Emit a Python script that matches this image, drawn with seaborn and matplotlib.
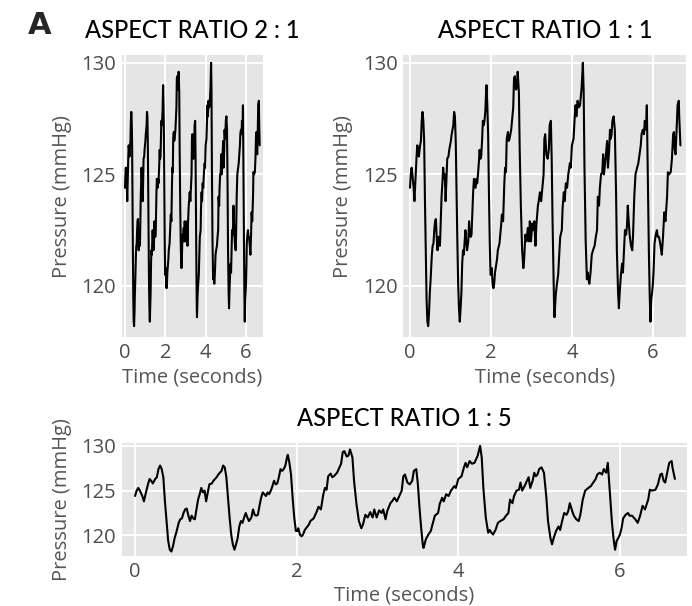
import numpy as np
import pandas as pd
import matplotlib
matplotlib.use("Agg")
import matplotlib.pyplot as plt
import seaborn as sns

# blood pressure trace
time_s = [
    0.00, 0.02, 0.04, 0.06, 0.09, 0.11, 0.13, 0.16, 0.18, 0.20, 0.22, 0.25, 0.27, 0.29, 0.31, 0.33,
    0.35, 0.37, 0.39, 0.41, 0.43, 0.45, 0.47, 0.49, 0.51, 0.54, 0.56, 0.58, 0.60, 0.62, 0.64, 0.66,
    0.68, 0.70, 0.72, 0.74, 0.76, 0.78, 0.80, 0.82, 0.84, 0.86, 0.88, 0.90, 0.92, 0.95, 0.97, 0.99,
    1.01, 1.03, 1.05, 1.07, 1.09, 1.11, 1.13, 1.15, 1.17, 1.19, 1.21, 1.23, 1.25, 1.27, 1.29, 1.31,
    1.33, 1.35, 1.37, 1.39, 1.41, 1.44, 1.46, 1.48, 1.50, 1.52, 1.54, 1.56, 1.58, 1.60, 1.62, 1.64,
    1.66, 1.68, 1.70, 1.72, 1.74, 1.76, 1.78, 1.80, 1.82, 1.84, 1.86, 1.88, 1.89, 1.91, 1.93, 1.95,
    1.97, 1.99, 2.01, 2.02, 2.04, 2.06, 2.08, 2.10, 2.15, 2.17, 2.21, 2.25, 2.27, 2.30, 2.33, 2.35,
    2.37, 2.39, 2.42, 2.44, 2.46, 2.50, 2.53, 2.55, 2.57, 2.59, 2.62, 2.64, 2.66, 2.69, 2.71, 2.74,
    2.77, 2.80, 2.82, 2.85, 2.88, 2.91, 2.94, 2.96, 2.99, 3.02, 3.05, 3.07, 3.10, 3.12, 3.16, 3.18,
    3.21, 3.24, 3.27, 3.30, 3.32, 3.34, 3.37, 3.40, 3.43, 3.45, 3.48, 3.50, 3.52, 3.54, 3.56, 3.57,
    3.60, 3.63, 3.66, 3.68, 3.71, 3.75, 3.77, 3.80, 3.82, 3.85, 3.88, 3.91, 3.95, 3.97, 4.00, 4.04,
    4.07, 4.09, 4.11, 4.14, 4.17, 4.20, 4.24, 4.27, 4.29, 4.31, 4.34, 4.37, 4.39, 4.41, 4.43, 4.46,
    4.49, 4.52, 4.56, 4.59, 4.62, 4.64, 4.67, 4.69, 4.72, 4.75, 4.77, 4.79, 4.82, 4.85, 4.87, 4.89,
    4.92, 4.94, 4.96, 4.98, 5.00, 5.03, 5.06, 5.09, 5.11, 5.14, 5.16, 5.18, 5.21, 5.24, 5.26, 5.29,
    5.31, 5.34, 5.36, 5.38, 5.41, 5.43, 5.46, 5.49, 5.51, 5.54, 5.57, 5.61, 5.64, 5.67, 5.70, 5.72,
    5.75, 5.78, 5.80, 5.83, 5.85, 5.86, 5.88, 5.90, 5.92, 5.94, 5.96, 5.98, 6.00, 6.02, 6.04, 6.07,
    6.10, 6.12, 6.15, 6.19, 6.22, 6.25, 6.28, 6.31, 6.35, 6.37, 6.40, 6.44, 6.47, 6.50, 6.52, 6.54,
    6.56, 6.58, 6.61, 6.64, 6.65, 6.68,
]
pressure_mmhg = [
    124.4, 125.0, 125.3, 125.0, 124.4, 123.8, 124.6, 125.7, 126.3, 126.1, 125.8, 126.3, 126.5, 127.4, 127.8, 127.4,
    126.5, 123.8, 121.6, 119.4, 118.4, 118.2, 118.8, 119.7, 120.3, 121.4, 121.8, 121.9, 122.5, 122.9, 123.0, 122.2,
    121.6, 122.2, 121.9, 121.8, 122.9, 124.0, 124.6, 125.3, 124.8, 125.0, 123.8, 124.8, 125.7, 125.8, 126.1, 126.3,
    126.5, 126.8, 127.0, 127.2, 127.8, 127.6, 126.5, 124.2, 122.0, 120.1, 119.0, 118.4, 119.0, 119.7, 121.0, 121.6,
    121.4, 122.0, 122.5, 122.0, 121.6, 122.0, 122.9, 122.3, 122.2, 122.3, 123.3, 124.2, 124.8, 124.6, 124.4, 124.8,
    124.6, 125.0, 125.5, 126.1, 125.7, 125.8, 126.5, 127.4, 127.2, 127.4, 127.8, 128.7, 129.0, 128.1, 126.8, 124.2,
    122.0, 120.5, 120.5, 120.8, 120.1, 119.9, 120.1, 120.6, 121.2, 121.6, 121.9, 122.7, 123.2, 122.9, 124.6, 125.3,
    125.1, 126.6, 126.9, 126.5, 126.6, 127.0, 127.6, 128.0, 129.3, 129.4, 128.8, 128.9, 129.6, 128.7, 126.1, 123.5,
    121.6, 120.8, 121.2, 122.3, 122.0, 122.6, 122.0, 122.9, 122.0, 122.8, 122.5, 122.9, 121.8, 122.7, 123.6, 123.8,
    124.2, 123.8, 124.4, 125.0, 126.6, 126.8, 125.9, 125.7, 126.1, 127.2, 127.4, 125.7, 123.1, 120.9, 119.0, 118.6,
    119.6, 120.1, 120.5, 121.2, 122.2, 122.5, 123.5, 124.2, 123.8, 124.6, 124.4, 125.0, 125.5, 125.3, 126.3, 126.6,
    127.6, 128.1, 127.6, 128.3, 128.0, 128.1, 128.9, 130.0, 128.7, 125.3, 122.0, 120.3, 120.6, 120.3, 120.1, 120.6,
    121.4, 121.6, 121.8, 122.2, 122.5, 124.0, 123.6, 124.4, 125.0, 125.1, 125.9, 125.0, 125.5, 126.1, 126.5, 125.3,
    126.1, 127.0, 126.6, 126.8, 127.4, 127.6, 127.0, 124.2, 121.6, 119.7, 119.0, 119.7, 120.5, 121.0, 120.6, 121.8,
    122.5, 122.3, 122.7, 123.6, 122.7, 122.2, 121.8, 121.6, 122.3, 124.0, 125.0, 125.3, 125.5, 125.9, 126.3, 126.8,
    127.0, 126.8, 127.4, 127.0, 128.1, 126.8, 124.2, 121.6, 119.7, 118.4, 119.4, 119.7, 120.1, 120.8, 121.9, 122.3,
    122.5, 122.2, 122.2, 121.8, 121.4, 122.2, 123.3, 122.9, 124.0, 125.1, 125.0, 125.1, 125.7, 126.8, 126.9, 126.1,
    125.9, 126.8, 128.1, 128.3, 127.6, 126.3,
]
x_ticks = [0, 2, 4, 6]
y_ticks = [120, 125, 130]
titles = ["ASPECT RATIO 2 : 1", "ASPECT RATIO 1 : 1", "ASPECT RATIO 1 : 5"]

df = pd.DataFrame({"Time": time_s, "Pressure": pressure_mmhg})

sns.set_style("darkgrid", {"axes.facecolor": "#E5E5E5", "grid.color": "white"})
plt.rcParams['font.family'] = ['Open Sans', 'DejaVu Sans']

W, H = 692, 606
fig = plt.figure(figsize=(W / 100, H / 100), dpi=100)

def px_axes(x0, y0, x1, y1):
    # pixel box (top-left origin) -> figure fraction
    return fig.add_axes([x0 / W, 1 - y1 / H, (x1 - x0) / W, (y1 - y0) / H])

panels = [
    px_axes(121.7, 55, 262.7, 337.3),
    px_axes(403.3, 55, 686.5, 337.3),
    px_axes(121.7, 442.7, 687.0, 556.0),
]

for ax, title in zip(panels, titles):
    sns.lineplot(data=df, x="Time", y="Pressure", ax=ax, color="black", lw=1.5)
    ax.set_xlim(-0.165, 6.83)
    ax.set_ylim(117.7, 130.35)
    ax.set_xticks(x_ticks)
    ax.set_yticks(y_ticks)
    ax.grid(True, color="white", lw=1.4)
    ax.tick_params(length=0, labelsize=14.5, labelcolor="#4D4D4D", pad=4)
    for s in ax.spines.values():
        s.set_visible(False)
    ax.set_xlabel("Time (seconds)", fontsize=14.5, color="#555555", labelpad=3)
    ax.set_ylabel("Pressure (mmHg)", fontsize=14.5, color="#555555", labelpad=7)
    ax.set_title(title, fontsize=17, family=["Lato", "DejaVu Sans"], fontweight="medium",
                 color="black", pad=12)

fig.text(28 / W, 1 - 34 / H, "A", fontsize=22, fontweight="bold", family=["DejaVu Sans"])

plt.savefig("out.png", dpi=100)
